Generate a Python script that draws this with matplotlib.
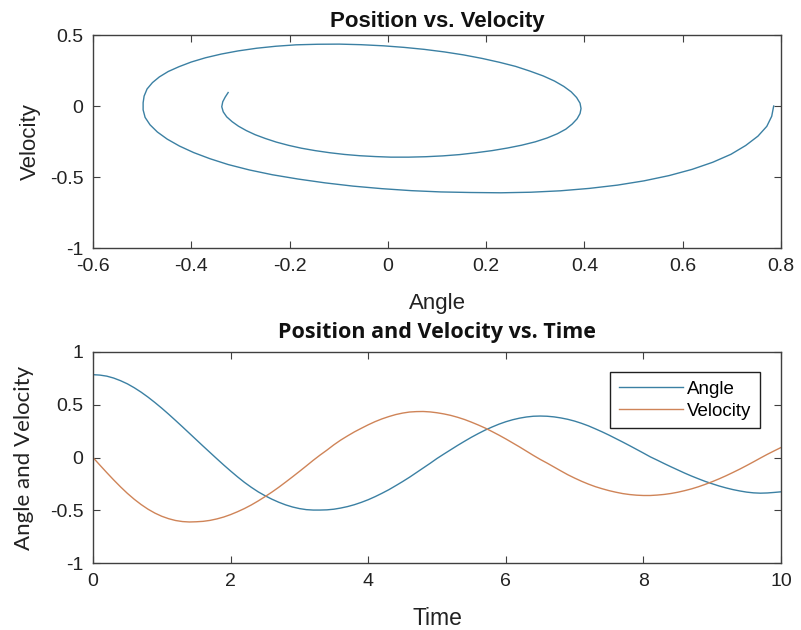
import numpy as np
import matplotlib.pyplot as plt

# simulated pendulum, sampled every 0.1 s
time = np.linspace(0, 10, 101)
angle = [0.785, 0.781, 0.771, 0.753, 0.728, 0.698, 0.661, 0.619, 0.572, 0.521,
         0.467, 0.410, 0.351, 0.291, 0.230, 0.169, 0.108, 0.048, -0.012, -0.071,
         -0.128, -0.183, -0.235, -0.282, -0.325, -0.362, -0.395, -0.424, -0.449, -0.469,
         -0.484, -0.494, -0.498, -0.498, -0.496, -0.490, -0.479, -0.465, -0.447, -0.425,
         -0.400, -0.371, -0.339, -0.305, -0.267, -0.228, -0.187, -0.143, -0.099, -0.055,
         -0.009, 0.033, 0.074, 0.115, 0.154, 0.192, 0.227, 0.260, 0.289, 0.316,
         0.339, 0.358, 0.373, 0.384, 0.391, 0.393, 0.391, 0.385, 0.375, 0.362,
         0.345, 0.324, 0.300, 0.272, 0.243, 0.212, 0.179, 0.146, 0.112, 0.077,
         0.042, 0.006, -0.025, -0.057, -0.088, -0.118, -0.148, -0.176, -0.202, -0.227,
         -0.249, -0.270, -0.288, -0.304, -0.317, -0.328, -0.335, -0.338, -0.336, -0.331,
         -0.325]
velocity = [0.000, -0.072, -0.143, -0.212, -0.278, -0.340, -0.396, -0.446, -0.490, -0.527,
            -0.557, -0.580, -0.597, -0.607, -0.611, -0.609, -0.605, -0.596, -0.582, -0.564,
            -0.541, -0.514, -0.484, -0.450, -0.412, -0.371, -0.328, -0.282, -0.233, -0.183,
            -0.132, -0.080, -0.027, 0.023, 0.070, 0.120, 0.165, 0.205, 0.243, 0.277,
            0.310, 0.340, 0.366, 0.388, 0.407, 0.421, 0.431, 0.435, 0.436, 0.432,
            0.424, 0.413, 0.399, 0.381, 0.360, 0.335, 0.308, 0.279, 0.246, 0.212,
            0.176, 0.138, 0.100, 0.060, 0.020, -0.018, -0.053, -0.090, -0.127, -0.163,
            -0.195, -0.225, -0.252, -0.276, -0.296, -0.314, -0.329, -0.342, -0.351, -0.357,
            -0.360, -0.360, -0.356, -0.350, -0.341, -0.329, -0.314, -0.297, -0.277, -0.254,
            -0.229, -0.202, -0.173, -0.142, -0.110, -0.076, -0.041, -0.005, 0.030, 0.063,
            0.095]

blue = '#3b80a3'
orange = '#cf8458'
frame = '#404040'
txt = '#222222'

plt.rcParams['font.family'] = ['Liberation Sans', 'DejaVu Sans']

fig = plt.figure(figsize=(8.01, 6.30), dpi=100)
ax1 = fig.add_axes([0.1161, 0.6063, 0.859, 0.3381])
ax2 = fig.add_axes([0.1161, 0.1063, 0.859, 0.335])


def style_axes(ax):
    for s in ax.spines.values():
        s.set_color(frame)
        s.set_linewidth(1.0)
    ax.tick_params(direction='in', length=5, width=0.8, color=frame,
                   top=True, right=True, labelsize=14, pad=7,
                   labelcolor=txt)


# phase portrait
ax1.plot(angle, velocity, color=blue, linewidth=1.0)
ax1.set_xlim(-0.6, 0.8)
ax1.set_ylim(-1, 0.5)
ax1.set_xticks([-0.6, -0.4, -0.2, 0, 0.2, 0.4, 0.6, 0.8])
ax1.set_xticklabels(['-0.6', '-0.4', '-0.2', '0', '0.2', '0.4', '0.6', '0.8'])
ax1.set_yticks([-1, -0.5, 0, 0.5])
ax1.set_yticklabels(['-1', '-0.5', '0', '0.5'])
ax1.set_xlabel('Angle', fontsize=16, color=txt)
ax1.set_ylabel('Velocity', fontsize=16, color=txt)
ax1.xaxis.set_label_coords(0.5, -0.21)
ax1.yaxis.set_label_coords(-0.076, 0.5)
ax1.set_title('Position vs. Velocity', fontsize=16, fontweight='bold',
              pad=6, color='#111111')
style_axes(ax1)

# time series
ax2.plot(time, angle, color=blue, linewidth=1.0, label='Angle')
ax2.plot(time, velocity, color=orange, linewidth=1.0, label='Velocity')
ax2.set_xlim(0, 10)
ax2.set_ylim(-1, 1)
ax2.set_xticks([0, 2, 4, 6, 8, 10])
ax2.set_yticks([-1, -0.5, 0, 0.5, 1])
ax2.set_yticklabels(['-1', '-0.5', '0', '0.5', '1'])
ax2.set_xlabel('Time', fontsize=16.5, color=txt)
ax2.set_ylabel('Angle and Velocity', fontsize=16, family='Lato', color=txt)
ax2.xaxis.set_label_coords(0.5, -0.21)
ax2.yaxis.set_label_coords(-0.086, 0.5)
ax2.set_title('Position and Velocity vs. Time', fontsize=15.5,
              fontweight='bold', family='Open Sans', pad=10, color='#111111')
style_axes(ax2)

leg = ax2.legend(loc='upper right', bbox_to_anchor=(0.9695, 0.905),
                 fontsize=13.5, fancybox=False, framealpha=1,
                 handlelength=3.4, handletextpad=0.25, borderpad=0.45,
                 labelspacing=0.28, borderaxespad=0)
leg.get_frame().set_edgecolor('#202020')
leg.get_frame().set_linewidth(1.0)

fig.savefig('out.png', dpi=100)
